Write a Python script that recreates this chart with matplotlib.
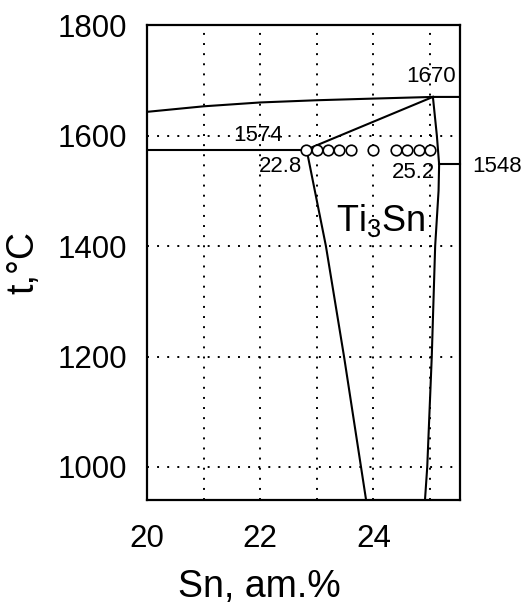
import matplotlib
matplotlib.use("Agg")
from matplotlib import pyplot as plt
from matplotlib.ticker import MultipleLocator, FixedLocator

plt.rcParams['font.family'] = ['Liberation Sans', 'DejaVu Sans']
plt.rcParams['mathtext.default'] = 'regular'

# liquidus (top curve) and flat part right of maximum
liq_sn = [20, 21, 22, 23, 24, 25.05, 25.53]
liq_t = [1643, 1653, 1660, 1664, 1667, 1670, 1670]
# eutectic horizontal 1574
eut_sn = [20, 22.8]
eut_t = [1574, 1574]
# line from eutectic point to the maximum
up_sn = [22.8, 25.05]
up_t = [1574, 1670]
# Ti3Sn left boundary
left_sn = [22.82, 23.16, 23.48, 23.78, 23.87]
left_t = [1574, 1400, 1200, 1000, 940]
# Ti3Sn right boundary
right_sn = [25.05, 25.12, 25.16, 25.15, 25.09, 25.03, 24.95, 24.91]
right_t = [1670, 1600, 1548, 1500, 1400, 1200, 1000, 940]
# 1548 horizontal
per_sn = [25.16, 25.53]
per_t = [1548, 1548]
# experimental points
pts_sn = [22.8, 23.0, 23.2, 23.4, 23.6, 24.0, 24.4, 24.6, 24.8, 25.0]
pts_t = [1574] * len(pts_sn)

# annotations (text, sn, t)
labels = ["1670", "1574", "22.8", "25.2", "1548"]
lab_sn = [25.01, 21.96, 22.36, 24.70, 26.19]
lab_t = [1707, 1601, 1544, 1534, 1544]

fig = plt.figure(figsize=(5.27, 6.04), dpi=100)
ax = fig.add_axes([0.279, 0.172, 0.594, 0.7864])

lw = 1.5
ax.plot(liq_sn, liq_t, color='k', lw=lw)
ax.plot(eut_sn, eut_t, color='k', lw=lw)
ax.plot(up_sn, up_t, color='k', lw=lw)
ax.plot(left_sn, left_t, color='k', lw=lw)
ax.plot(right_sn, right_t, color='k', lw=lw)
ax.plot(per_sn, per_t, color='k', lw=lw, clip_on=False)
ax.plot(pts_sn, pts_t, 'o', ms=7.6, mfc='white', mec='k', mew=1.2, zorder=5)

for s, x, y in zip(labels, lab_sn, lab_t):
    ax.text(x, y, s, fontsize=16, ha='center', va='center', clip_on=False)
ax.text(24.12, 1446, "Ti$_3$Sn", fontsize=26, ha='center', va='center')

ax.set_xlim(20, 25.53)
ax.set_ylim(940, 1800)
ax.xaxis.set_major_locator(FixedLocator([20, 22, 24]))
ax.xaxis.set_minor_locator(FixedLocator([21, 23, 25]))
ax.yaxis.set_major_locator(MultipleLocator(200))
ax.grid(True, which='both', color='k', lw=1.4, linestyle=(0, (1, 4.2)))
ax.tick_params(which='both', length=0)
ax.tick_params(axis='y', labelsize=22.5, pad=14)
ax.tick_params(axis='x', labelsize=22.5, pad=17)
for sp in ax.spines.values():
    sp.set_linewidth(1.6)

ax.text(0.36, -0.204, "Sn, am.%", transform=ax.transAxes, fontsize=27,
        ha='center', va='baseline')
ax.text(-0.394, 0.5, "t,°C", transform=ax.transAxes, fontsize=27,
        ha='center', va='center', rotation=90)

fig.savefig("out.png", dpi=100)
